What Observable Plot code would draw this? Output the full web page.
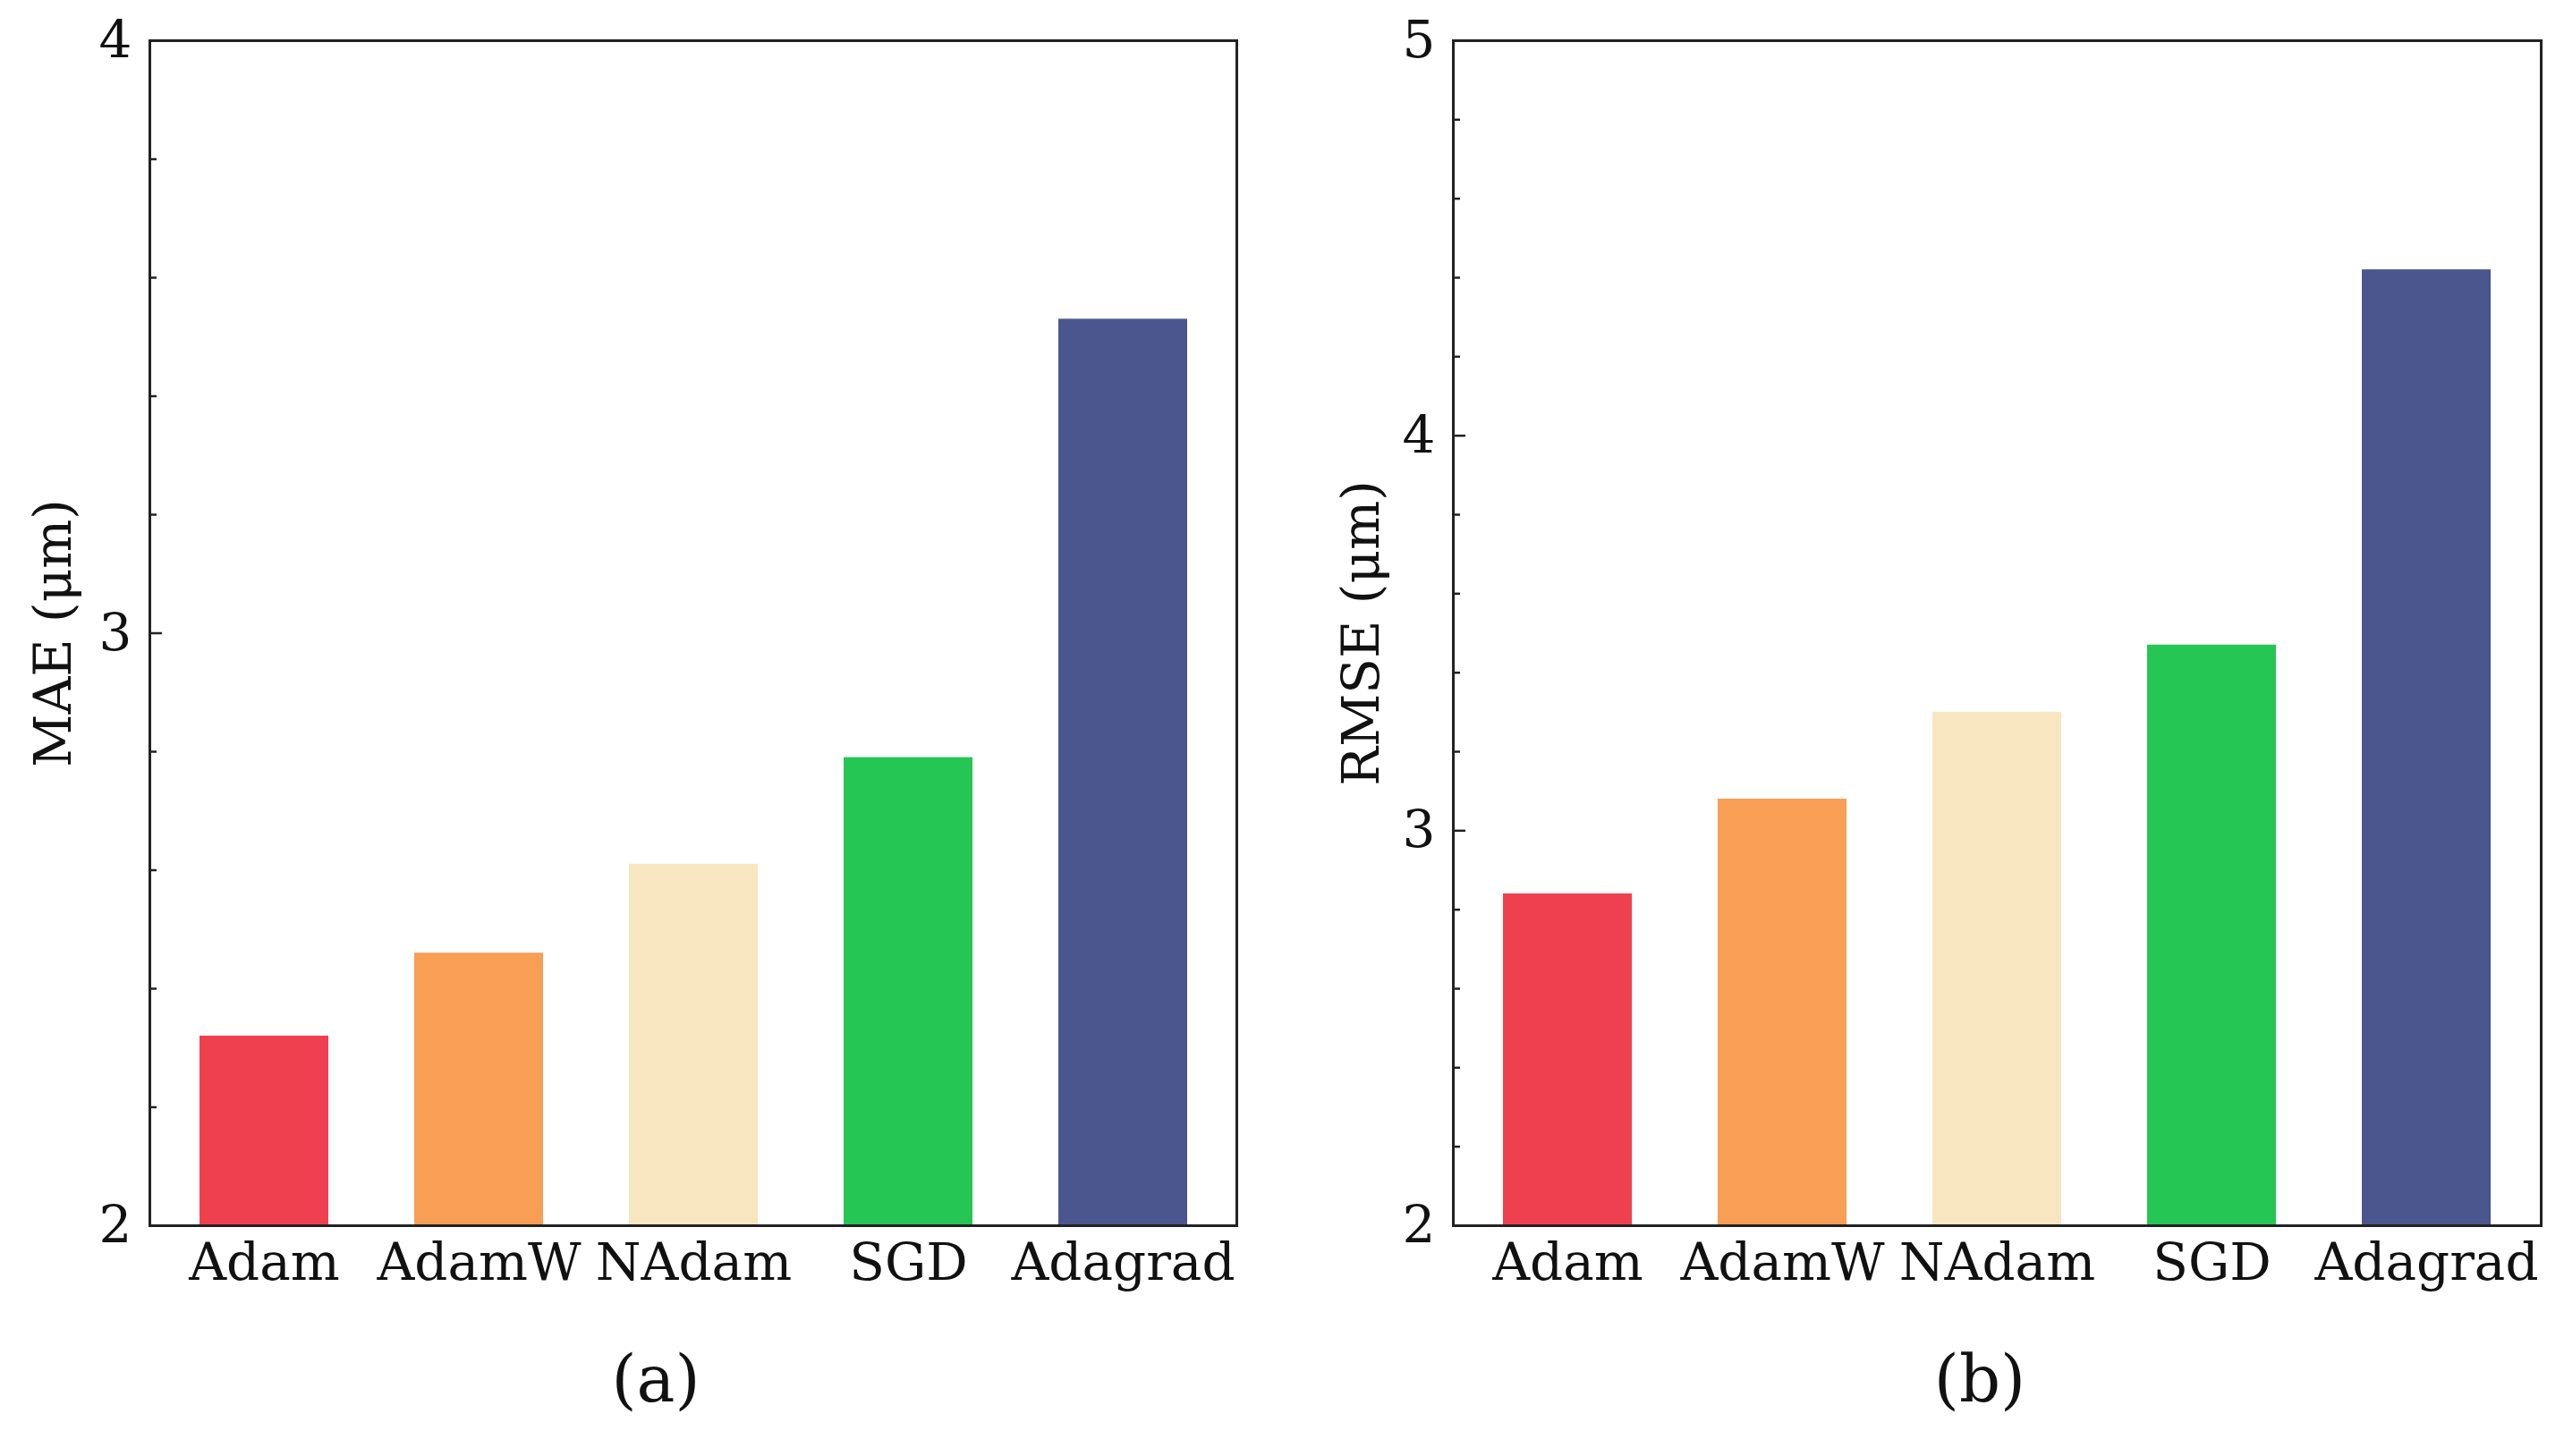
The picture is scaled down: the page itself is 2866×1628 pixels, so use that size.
<!DOCTYPE html>
<html>
<head>
<meta charset="utf-8">
<script src="https://cdn.jsdelivr.net/npm/d3@7"></script>
<script src="https://cdn.jsdelivr.net/npm/@observablehq/plot@0.6"></script>
<style>
  html, body { margin: 0; padding: 0; background: #fff; }
  #fig { position: relative; width: 2866px; height: 1628px; background: #fff; font-family: "DejaVu Serif", serif; }
  .panel { position: absolute; top: 0; }
  .cap { position: absolute; font-family: "DejaVu Serif", serif; font-size: 72px; color: #111; transform: translateX(-50%); line-height: 1; white-space: nowrap; }
</style>
</head>
<body>
<div id="fig"></div>
<script>
// ---- data ----
const optimizers = ["Adam", "AdamW", "NAdam", "SGD", "Adagrad"];
const maeValues = [2.32, 2.46, 2.61, 2.79, 3.53];
const rmseValues = [2.84, 3.08, 3.30, 3.47, 4.42];
const barColors = ["#EF4050", "#F89E55", "#F7E6C0", "#25C653", "#4B568E"];
const maeMajorTicks = [2, 3, 4];
const rmseMajorTicks = [2, 3, 4, 5];
const panelLabels = ["(a)", "(b)"];
const yLabels = ["MAE (μm)", "RMSE (μm)"];

const FONT = "DejaVu Serif";
const FS = 58;
const INK = "#222";

function minorTicks(lo, hi) {
  return d3.range(Math.round(lo * 5), Math.round(hi * 5) + 1).map(i => i / 5)
    .filter(v => Math.abs(v - Math.round(v)) > 1e-9);
}

function panel({values, domain, majors, label, marginLeft, marginRight, labelDx}) {
  const data = optimizers.map((name, i) => ({name, value: values[i]}));
  return Plot.plot({
    width: 1433,
    height: 1480,
    marginTop: 45,
    marginBottom: 110,
    marginLeft,
    marginRight,
    style: {fontFamily: FONT, fontSize: FS + "px", color: "#111", background: "transparent"},
    x: {type: "band", domain: optimizers, paddingInner: 0.4, paddingOuter: 0.23, label: null},
    y: {domain, label: null},
    color: {domain: optimizers, range: barColors},
    marks: [
      Plot.barY(data, {x: "name", y: "value", fill: "name", clip: true}),
      Plot.frame({stroke: INK, strokeWidth: 3}),
      // minor inward ticks
      Plot.axisY(minorTicks(domain[0], domain[1]), {anchor: "left", tickSize: 8, dx: 8, tickFormat: () => "", stroke: INK, strokeWidth: 2.5, label: null}),
      // major inward ticks
      Plot.axisY(majors, {anchor: "left", tickSize: 14, dx: 14, tickFormat: () => "", stroke: INK, strokeWidth: 2.5, label: null}),
      // major tick labels
      Plot.axisY(majors, {anchor: "left", tickSize: 0, tickPadding: 20, fontSize: FS, fill: "#111", label: null, tickFormat: d => String(d)}),
      Plot.axisX({anchor: "bottom", tickSize: 0, tickPadding: 19, fontSize: FS, fill: "#111", label: null}),
      Plot.text([label], {text: d => d, frameAnchor: "left", textAnchor: "middle", rotate: -90, dx: labelDx, fontSize: FS, fill: "#111"})
    ]
  });
}

const fig = document.getElementById("fig");

const left = panel({values: maeValues, domain: [2, 4], majors: maeMajorTicks, label: yLabels[0], marginLeft: 167, marginRight: 51, labelDx: -107});
left.classList.add("panel");
left.style.left = "0px";
fig.appendChild(left);

const right = panel({values: rmseValues, domain: [2, 5], majors: rmseMajorTicks, label: yLabels[1], marginLeft: 191, marginRight: 26, labelDx: -102});
right.classList.add("panel");
right.style.left = "1433px";
fig.appendChild(right);

[[733, panelLabels[0]], [2213, panelLabels[1]]].forEach(([cx, t]) => {
  const d = document.createElement("div");
  d.className = "cap";
  d.style.left = cx + "px";
  d.style.top = "1506px";
  d.textContent = t;
  fig.appendChild(d);
});
</script>
</body>
</html>
